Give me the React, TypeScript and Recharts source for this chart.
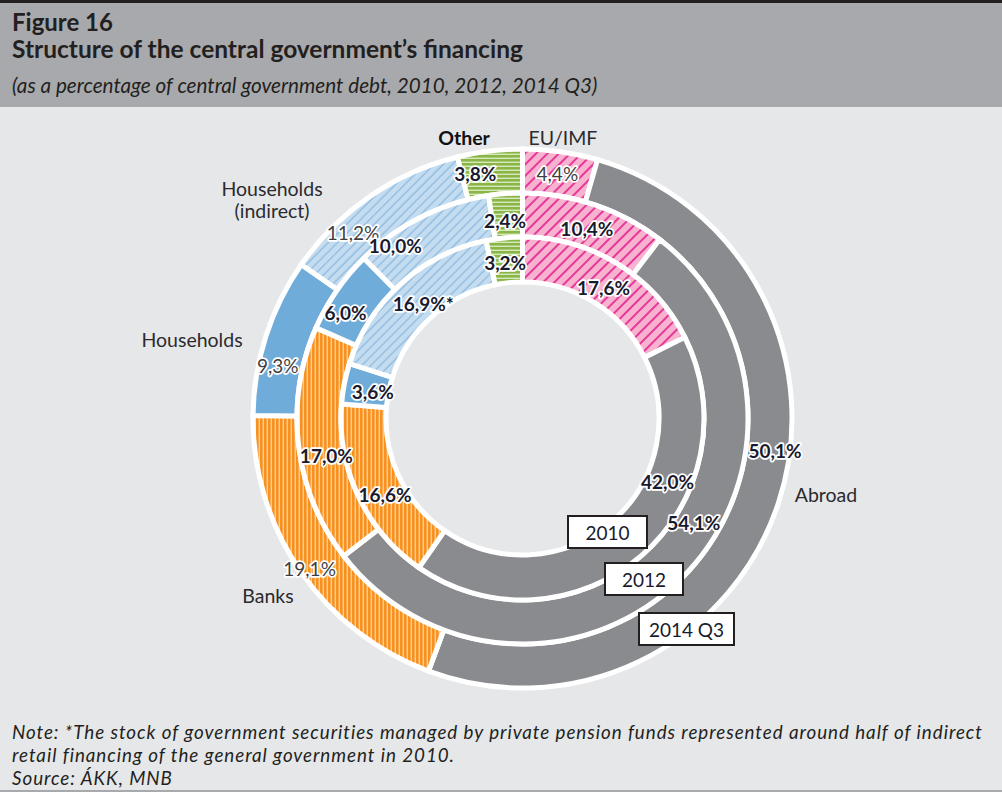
import React from "react";
import { PieChart, Pie, Cell } from "recharts";

const categories = ["EU/IMF", "Abroad", "Banks", "Households", "Households (indirect)", "Other"];
const values2010 = [17.6, 42.0, 16.6, 3.6, 16.9, 3.2];
const values2012 = [10.4, 54.1, 17.0, 6.0, 10.0, 2.4];
const values2014 = [4.4, 50.1, 19.1, 9.3, 11.2, 3.8];
const years = ["2010", "2012", "2014 Q3"];

const FILLS = [
  "url(#pinkHatch)",
  "#8a8b8f",
  "url(#orangeStripe)",
  "#70acd9",
  "url(#blueHatch)",
  "url(#greenStripe)",
];

// where along each slice the value label sits (fraction of the arc, radial shift)
const labelPos2014 = [[0.5, 0], [0.44, 7], [0.49, 13], [0.34, 3], [0.31, 4], [0.22, 2]];
const labelPos2012 = [[0.5, -3], [0.43, -3], [0.44, -4], [0.34, 3], [0.23, 11], [0.42, -5]];
const labelPos2010 = [[0.5, -5], [0.33, -1], [0.44, -2], [0.42, -7], [0.52, -7], [0.45, -2]];
const boldOuter = [false, true, false, false, false, true];

const FONT = "Lato, 'Open Sans', sans-serif";
const CX = 517.5;
const CY = 306.5;

const toRows = (vals: number[]) => categories.map((name, i) => ({ name, value: vals[i] }));

const fmt = (v: number) => v.toFixed(1).replace(".", ",") + "%";

const makeLabel =
  (pos: number[][], bold: boolean[] | null, mark: number | null) =>
  (props: any) => {
    const { cx, cy, innerRadius, outerRadius, startAngle, endAngle, index, value } = props;
    const [t, dr] = pos[index];
    const a = ((startAngle + t * (endAngle - startAngle)) * Math.PI) / 180;
    const r = (innerRadius + outerRadius) / 2 + dr;
    const x = cx + r * Math.cos(a);
    const y = cy - r * Math.sin(a);
    const isBold = bold ? bold[index] : true;
    return (
      <text
        x={x}
        y={y}
        textAnchor="middle"
        dominantBaseline="central"
        fontFamily={FONT}
        fontSize={19}
        fontWeight={isBold ? 700 : 400}
        fill={isBold ? "#1a1a2e" : "#3f3f42"}
        stroke="#ffffff"
        strokeWidth={3.5}
        strokeLinejoin="round"
        paintOrder="stroke"
      >
        {fmt(value) + (mark === index ? "*" : "")}
      </text>
    );
  };

const catLabel = (text: string, x: number, y: number, bold = false) => (
  <div
    key={text + x}
    style={{
      position: "absolute",
      left: x,
      top: y,
      transform: "translate(-50%, -50%)",
      fontFamily: FONT,
      fontSize: 19.5,
      fontWeight: bold ? 700 : 400,
      color: bold ? "#111" : "#2b2b2e",
      whiteSpace: "nowrap",
      textAlign: "center",
      lineHeight: "22px",
    }}
  >
    {text}
  </div>
);

const yearBox = (text: string, left: number, top: number, w: number) => (
  <div
    key={text}
    style={{
      position: "absolute",
      left,
      top,
      width: w,
      height: 34,
      boxSizing: "border-box",
      border: "2px solid #231f20",
      background: "#fff",
      fontFamily: FONT,
      fontSize: 19,
      color: "#1a1a2e",
      display: "flex",
      alignItems: "center",
      justifyContent: "center",
    }}
  >
    {text}
  </div>
);

export default function App() {
  return (
    <div style={{ position: "absolute", left: 0, top: 0, width: 1002, height: 796, background: "#fff", overflow: "hidden" }}>
      <div style={{ position: "absolute", left: 0, top: 0, width: 1002, height: 3, background: "#231f20" }} />
      <div style={{ position: "absolute", left: 0, top: 3, width: 1002, height: 104, background: "#a7a9ac", fontFamily: FONT, color: "#231f20" }}>
        <div style={{ position: "absolute", left: 12, top: 4, fontSize: 24, fontWeight: 700 }}>Figure 16</div>
        <div style={{ position: "absolute", left: 12, top: 31, fontSize: 24.5, fontWeight: 700 }}>Structure of the central government’s financing</div>
        <div style={{ position: "absolute", left: 12, top: 70, fontSize: 20.7, fontStyle: "italic" }}>(as a percentage of central government debt, 2010, 2012, 2014 Q3)</div>
      </div>
      <div style={{ position: "absolute", left: 0, top: 107, width: 1002, height: 683, background: "#e6e7e9" }}>
        <PieChart width={1002} height={600}>
          <defs>
            <pattern id="pinkHatch" width="8" height="8" patternUnits="userSpaceOnUse" patternTransform="rotate(45)">
              <rect width="8" height="8" fill="#f6b2cf" />
              <line x1="4" y1="0" x2="4" y2="8" stroke="#e2198a" strokeWidth="1.6" />
            </pattern>
            <pattern id="blueHatch" width="6.5" height="6.5" patternUnits="userSpaceOnUse" patternTransform="rotate(45)">
              <rect width="6.5" height="6.5" fill="#c4dcf0" />
              <line x1="3" y1="0" x2="3" y2="6.5" stroke="#7eb1dc" strokeWidth="1" />
            </pattern>
            <pattern id="orangeStripe" width="4" height="4" patternUnits="userSpaceOnUse">
              <rect width="4" height="4" fill="#f7921e" />
              <rect x="2.6" width="1.4" height="4" fill="#fccb9c" />
            </pattern>
            <pattern id="greenStripe" width="4" height="4" patternUnits="userSpaceOnUse">
              <rect width="4" height="4" fill="#8ab647" />
              <rect y="2.6" width="4" height="1.4" fill="#d8e8bd" />
            </pattern>
          </defs>
          <Pie
            data={toRows(values2014)}
            dataKey="value"
            cx={CX}
            cy={CY}
            startAngle={90}
            endAngle={-270}
            outerRadius={269.5}
            innerRadius={225.5}
            stroke="#ffffff"
            strokeWidth={5}
            labelLine={false}
            label={makeLabel(labelPos2014, boldOuter, null)}
            isAnimationActive={false}
          >
            {FILLS.map((f, i) => (
              <Cell key={`o-${i}`} fill={f} />
            ))}
          </Pie>
          <Pie
            data={toRows(values2012)}
            dataKey="value"
            cx={CX}
            cy={CY}
            startAngle={90}
            endAngle={-270}
            outerRadius={225.5}
            innerRadius={181.5}
            stroke="#ffffff"
            strokeWidth={5}
            labelLine={false}
            label={makeLabel(labelPos2012, null, null)}
            isAnimationActive={false}
          >
            {FILLS.map((f, i) => (
              <Cell key={`m-${i}`} fill={f} />
            ))}
          </Pie>
          <Pie
            data={toRows(values2010)}
            dataKey="value"
            cx={CX}
            cy={CY}
            startAngle={90}
            endAngle={-270}
            outerRadius={181.5}
            innerRadius={136.5}
            stroke="#ffffff"
            strokeWidth={5}
            labelLine={false}
            label={makeLabel(labelPos2010, null, 4)}
            isAnimationActive={false}
          >
            {FILLS.map((f, i) => (
              <Cell key={`i-${i}`} fill={f} />
            ))}
          </Pie>
        </PieChart>
        {catLabel("Other", 464, 31, true)}
        {catLabel(categories[0], 563, 31)}
        {catLabel("Households", 272, 82)}
        {catLabel("(indirect)", 272, 104)}
        {catLabel(categories[3], 192, 233)}
        {catLabel(categories[2], 268, 489)}
        {catLabel(categories[1], 826, 388)}
        {yearBox(years[0], 567, 408, 81)}
        {yearBox(years[1], 604, 455, 80)}
        {yearBox(years[2], 638, 505, 97)}
      </div>
      <div style={{ position: "absolute", left: 12, top: 720, fontFamily: FONT, fontSize: 18.8, letterSpacing: 0.95, fontStyle: "italic", color: "#231f20", lineHeight: "23px", whiteSpace: "nowrap" }}>
        <div>Note: *The stock of government securities managed by private pension funds represented around half of indirect</div>
        <div>retail financing of the general government in 2010.</div>
        <div>Source: ÁKK, MNB</div>
      </div>
      <div style={{ position: "absolute", left: 0, top: 790, width: 1002, height: 2, background: "#a7a9ac" }} />
    </div>
  );
}
